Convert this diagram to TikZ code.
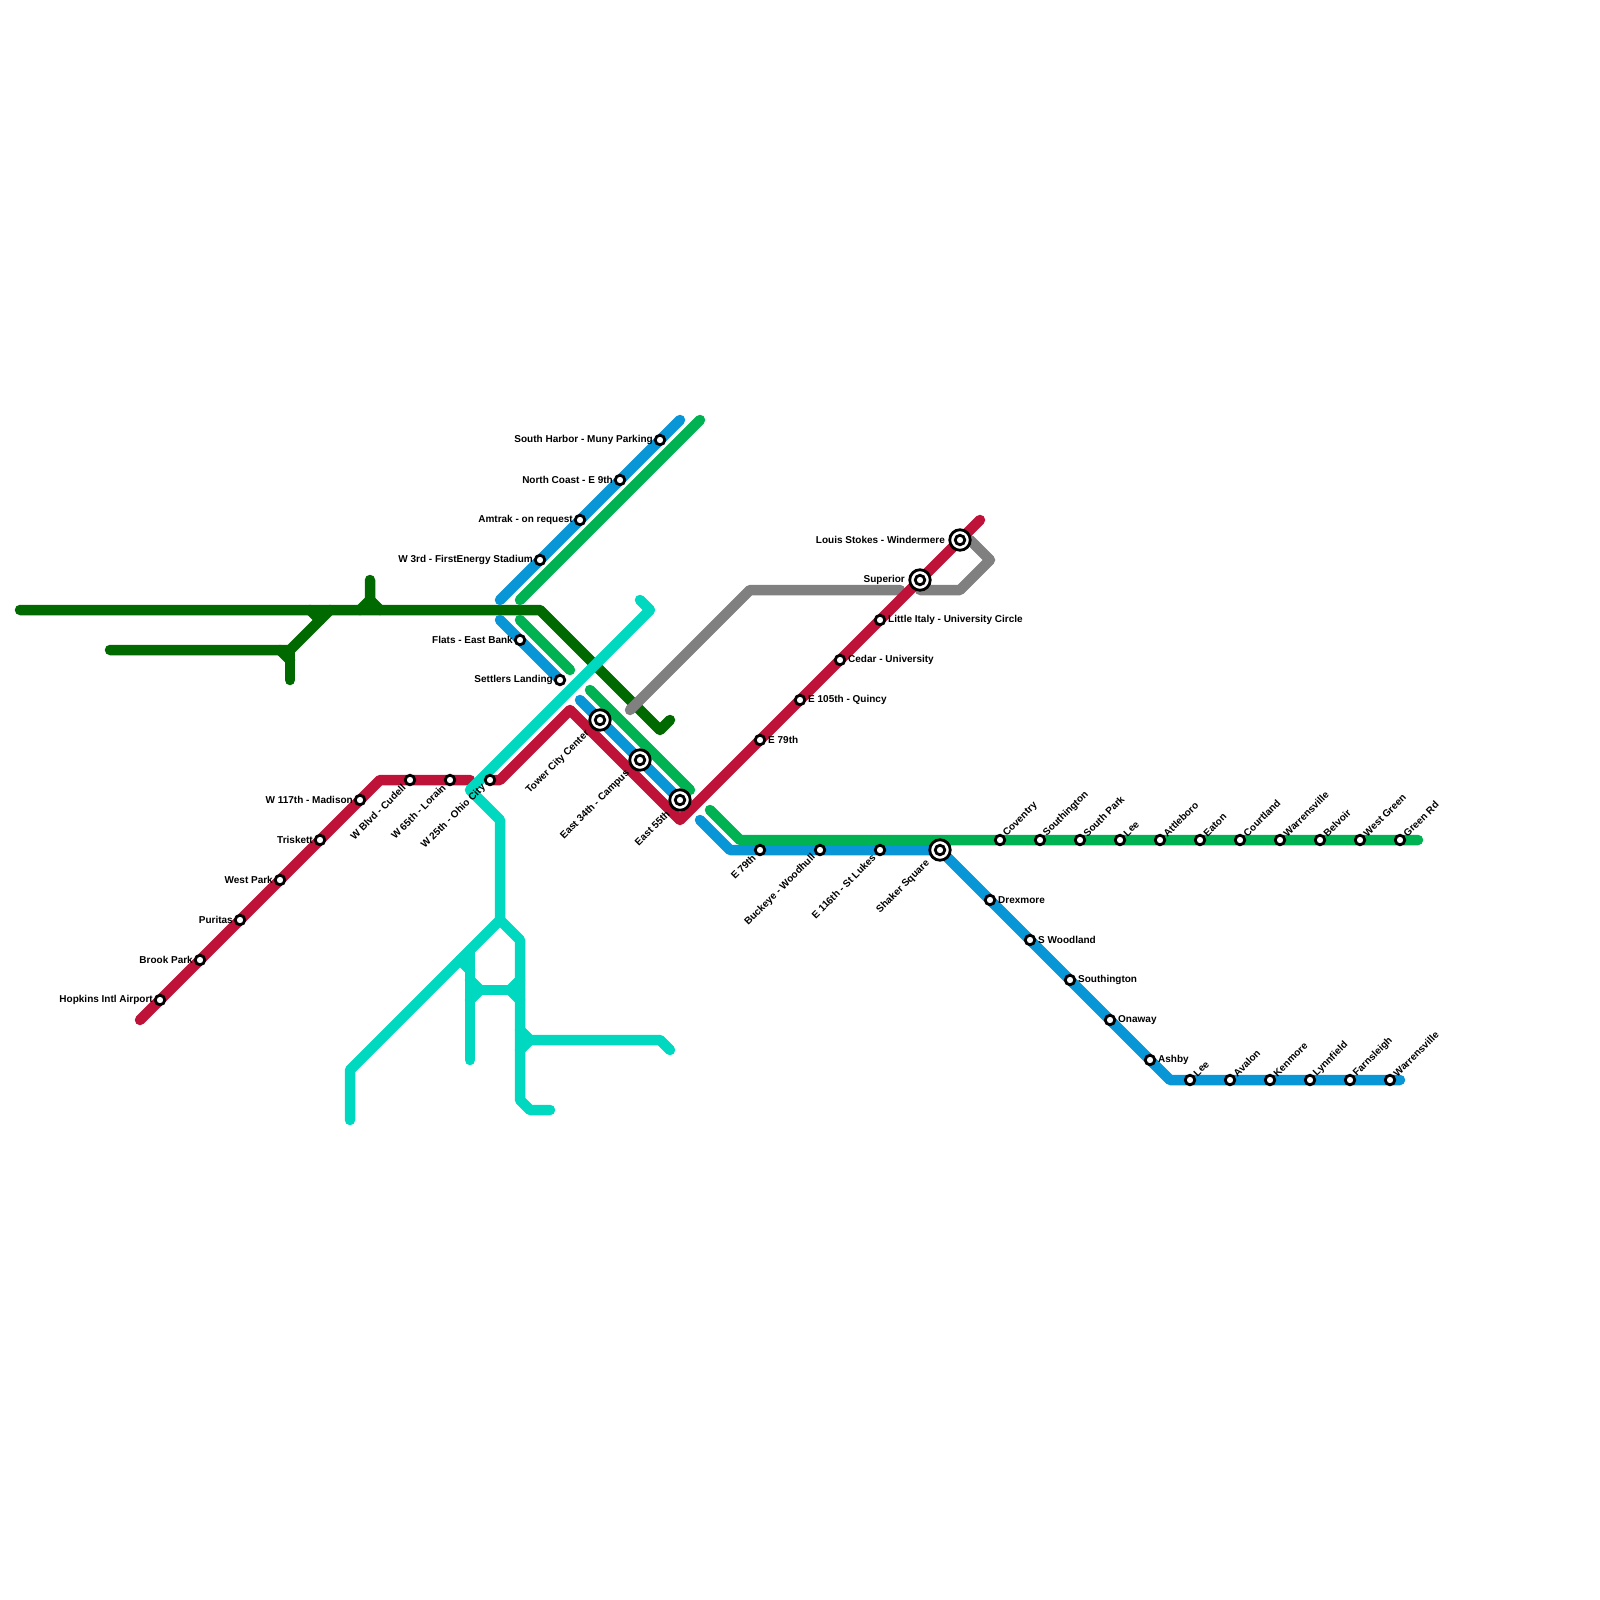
\documentclass[tikz,border=0pt]{standalone}
\usepackage{fontspec}
\setmainfont{Liberation Sans}
\usetikzlibrary{backgrounds,calc}
\definecolor{redln}{HTML}{BE1238}
\definecolor{forestln}{HTML}{006A00}
\definecolor{greenln}{HTML}{00B251}
\definecolor{blueln}{HTML}{0896D7}
\definecolor{tealln}{HTML}{00D9C0}
\definecolor{greyln}{HTML}{808080}
\begin{document}
\begin{tikzpicture}[
  x=1pt,y=-1pt,
  font=\fontsize{10}{12}\selectfont\bfseries,
  ln/.style={line width=10.5pt,line cap=round,line join=round},
  stn/.style={draw=black,fill=white,circle,inner sep=0pt,minimum size=9.5pt,line width=2.8pt},
  hub/.style={draw=black,fill=white,circle,inner sep=0pt,minimum size=20.5pt,line width=2.8pt},
  lbl/.style={inner sep=0pt,text=black}
]
  \useasboundingbox (0,0) rectangle (1600,1600);

  % plain stops, text on the left
  \foreach \n/\x/\y/\t in {hopkins/160/1000/Hopkins Intl Airport,brook/200/960/Brook Park,
    puritas/240/920/Puritas,westpark/280/880/West Park,triskett/320/840/Triskett,
    madison/360/800/W 117th - Madison,firstenergy/540/560/W 3rd - FirstEnergy Stadium,
    amtrak/580/520/Amtrak - on request,ninth/620/480/North Coast - E 9th,
    harbor/660/440/South Harbor - Muny Parking,flats/520/640/Flats - East Bank,
    settlers/560/680/Settlers Landing}
  {
    \node[stn] (\n) at (\x,\y) {};
    \node[lbl,anchor=east] (\n-t) at ($(\n)+(-7,0)$) {\t};
  }

  % plain stops, text on the right
  \foreach \n/\x/\y/\t in {seventyninth/760/740/E 79th,quincy/800/700/E 105th - Quincy,
    cedar/840/660/Cedar - University,italy/880/620/Little Italy - University Circle,
    drexmore/990/900/Drexmore,woodland/1030/940/S Woodland,southingtonb/1070/980/Southington,
    onaway/1110/1020/Onaway,ashby/1150/1060/Ashby}
  {
    \node[stn] (\n) at (\x,\y) {};
    \node[lbl,anchor=west] (\n-t) at ($(\n)+(8,0)$) {\t};
  }

  % plain stops, slanted text below
  \foreach \n/\x/\y/\t in {cudell/410/780/W Blvd - Cudell,lorain/450/780/W 65th - Lorain,
    ohio/490/780/W 25th - Ohio City,shakerw/760/850/E 79th,woodhull/820/850/Buckeye - Woodhull,
    lukes/880/850/E 116th - St Lukes}
  {
    \node[stn] (\n) at (\x,\y) {};
    \node[lbl,anchor=east,rotate=45] (\n-t) at ($(\n)+(-6,6)$) {\t};
  }

  % plain stops, slanted text above
  \foreach \n/\x/\y/\t in {coventry/1000/840/Coventry,southingtong/1040/840/Southington,
    southpark/1080/840/South Park,leeg/1120/840/Lee,attleboro/1160/840/Attleboro,
    eaton/1200/840/Eaton,courtland/1240/840/Courtland,warrensg/1280/840/Warrensville,
    belvoir/1320/840/Belvoir,westgreen/1360/840/West Green,greenrd/1400/840/Green Rd,
    leeb/1190/1080/Lee,avalon/1230/1080/Avalon,kenmore/1270/1080/Kenmore,
    lynnfield/1310/1080/Lynnfield,farnsleigh/1350/1080/Farnsleigh,warrensb/1390/1080/Warrensville}
  {
    \node[stn] (\n) at (\x,\y) {};
    \node[lbl,anchor=west,rotate=45] (\n-t) at ($(\n)+(5,-5)$) {\t};
  }

  % big stops
  \foreach \n/\x/\y/\t in {tower/600/720/Tower City Center,campus/640/760/East 34th - Campus,
    fiftyfifth/680/800/East 55th,shaker/940/850/Shaker Square}
  {
    \node[hub] (\n) at (\x,\y) {};
    \node[stn] (\n-c) at (\n) {};
    \node[lbl,anchor=east,rotate=45] (\n-t) at ($(\n)+(-12,12)$) {\t};
  }
  \foreach \n/\x/\y/\t in {superior/920/580/Superior,stokes/960/540/Louis Stokes - Windermere}
  {
    \node[hub] (\n) at (\x,\y) {};
    \node[stn] (\n-c) at (\n) {};
    \node[lbl,anchor=east] (\n-t) at ($(\n)+(-15,0)$) {\t};
  }

  % bends and line ends
  \foreach \n/\x/\y in {fa/20/610,fb/540/610,fc/660/730,fd/670/720,fe/370/580,ff/370/600,
    fg/360/610,fh/380/610,fi/110/650,fj/290/650,fk/330/610,fl/310/610,fm/320/620,
    fn/290/680,fo/280/650,fp/290/660,
    ga/630/710,gb/750/590,gc/900/590,gd/920/590,ge/960/590,gf/990/560,gg/970/540,
    ba/500/600,bb/680/420,bc/500/620,bd/580/700,be/700/820,bf/730/850,bg/1170/1080,bh/1400/1080,
    na/520/600,nb/700/420,nc/520/620,nd/570/670,ne/590/690,nf/690/790,ng/710/810,nh/740/840,ni/1418/840,
    ra/140/1020,rb/380/780,rc/470/780,rd/500/780,re/570/710,rf/680/820,rg/980/520,
    ta/640/600,tb/650/610,tc/470/790,td/500/820,te/500/920,tf/350/1070,tg/350/1120,
    th/520/940,ti/520/1100,tj/530/1110,tk/550/1110,tl/470/950,tm/470/1060,tn/460/960,to/470/970,
    tp/470/980,tq/480/990,tr/470/1000,ts/510/990,tt/520/980,tu/520/1000,
    tv/520/1030,tw/530/1040,tx/520/1050,ty/660/1040,tz/670/1050}
    \coordinate (\n) at (\x,\y);

  \begin{scope}[on background layer]
    \draw[ln,forestln] (fa) -- (fb) -- (fc) -- (fd);
    \draw[ln,forestln] (fe) -- (ff) -- (fg);
    \draw[ln,forestln] (ff) -- (fh);
    \draw[ln,forestln] (fi) -- (fj) -- (fk);
    \draw[ln,forestln] (fl) -- (fm);
    \draw[ln,forestln] (fj) -- (fn);
    \draw[ln,forestln] (fo) -- (fp);

    \draw[ln,greyln] (ga) -- (gb) -- (gc);
    \draw[ln,greyln] (gd) -- (ge) -- (gf) -- (gg);

    \draw[ln,blueln] (ba) -- (firstenergy.center) -- (amtrak.center) -- (ninth.center) -- (harbor.center) -- (bb);
    \draw[ln,blueln] (bc) -- (flats.center) -- (settlers.center);
    \draw[ln,blueln] (bd) -- (tower.center) -- (campus.center) -- (fiftyfifth.center);
    \draw[ln,blueln] (be) -- (bf) -- (shaker.center) -- (bg) -- (bh);

    \draw[ln,greenln] (na) -- (nb);
    \draw[ln,greenln] (nc) -- (nd);
    \draw[ln,greenln] (ne) -- (nf);
    \draw[ln,greenln] (ng) -- (nh) -- (ni);

    \draw[ln,redln] (ra) -- (hopkins.center) -- (madison.center) -- (rb) -- (rc);
    \draw[ln,redln] (ohio.center) -- (rd) -- (re) -- (rf) -- (stokes.center) -- (rg);

    \draw[ln,tealln] (ta) -- (tb) -- (tc) -- (td) -- (te) -- (tf) -- (tg);
    \draw[ln,tealln] (te) -- (th) -- (ti) -- (tj) -- (tk);
    \draw[ln,tealln] (tl) -- (tm);
    \draw[ln,tealln] (tn) -- (to);
    \draw[ln,tealln] (tp) -- (tq) -- (tr);
    \draw[ln,tealln] (tq) -- (ts);
    \draw[ln,tealln] (tt) -- (ts) -- (tu);
    \draw[ln,tealln] (tv) -- (tw) -- (tx);
    \draw[ln,tealln] (tw) -- (ty) -- (tz);
  \end{scope}
\end{tikzpicture}
\end{document}
